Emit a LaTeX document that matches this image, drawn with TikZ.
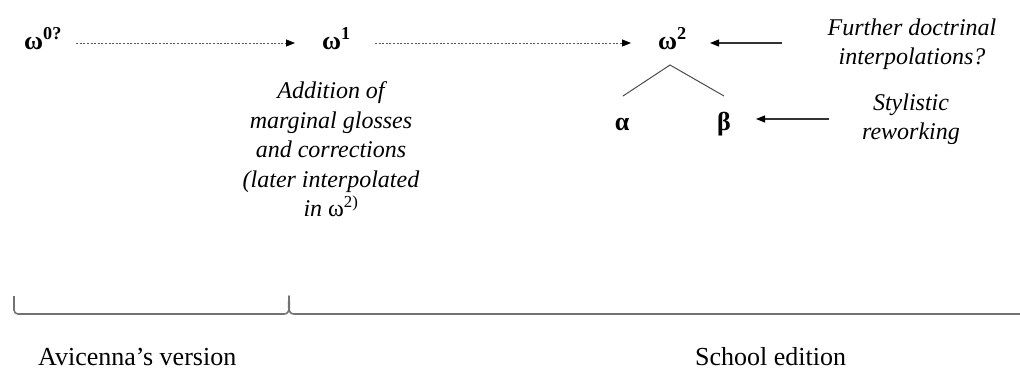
\documentclass[tikz,border=0pt]{standalone}
\usepackage{fontspec}
\setmainfont{Liberation Serif}
\usetikzlibrary{arrows.meta}
\begin{document}
\begin{tikzpicture}[x=1pt,y=1pt,
  sig/.style={inner sep=0pt,anchor=base west,font=\fontsize{26}{28}\selectfont\bfseries,text height=12pt,text depth=0pt},
  greek/.style={inner sep=0pt,anchor=base,font=\fontsize{26}{28}\selectfont\bfseries,text height=22pt,text depth=0pt},
  note/.style={inner sep=0pt,anchor=north,align=center,font=\fontsize{24}{29.5}\selectfont\itshape},
  label/.style={inner sep=0pt,anchor=base west,font=\fontsize{26}{28}\selectfont},
  dotarrow/.style={draw=black!65,line width=0.9pt,dash pattern=on 2pt off 1.6pt,-{Triangle[length=9pt,width=7pt,color=black]}},
  solidarrow/.style={draw=black!80,line width=1.1pt,-{Triangle[length=9pt,width=7pt,color=black]}},
  treeline/.style={draw=black!70,line width=1pt},
  bracket/.style={draw=black!55,line width=1.6pt,line join=round}]
\useasboundingbox (0,0) rectangle (1020,-370);

% sigla
\node[sig] (w0) at (24,-49) {ω\textsuperscript{0?}};
\node[sig] (w1) at (322,-49) {ω\textsuperscript{1}};
\node[sig] (w2) at (658,-49) {ω\textsuperscript{2}};
\node[greek] (alpha) at (622,-130) {α};
\node[greek] (beta) at (724,-130) {β};

% notes
\node[note] (add) at (331,-81.5) {Addition of\\marginal glosses\\and corrections\\(later interpolated\\in \textup{ω\textsuperscript{2)}}};
\node[note] (fd) at (912,-18.4) {Further doctrinal\\interpolations?};
\node[note] (sty) at (911,-93.4) {Stylistic\\reworking};

% arrows
\draw[dotarrow,shorten <=14pt,shorten >=27pt] (w0.east) -- (w1.west);
\draw[dotarrow,shorten <=24pt,shorten >=27pt] (w1.east) -- (w2.west);
\draw[solidarrow,shorten <=45pt,shorten >=23pt] (fd.west |- w2.east) -- (w2.east);
\draw[solidarrow,shorten <=33pt,shorten >=25pt] (sty.west |- beta.east) -- (beta.east);

% stemma lines
\coordinate (apex) at ([xshift=12pt,yshift=-16pt]w2.base west);
\draw[treeline] ([xshift=1pt,yshift=34pt]alpha.base) -- (apex) -- ([yshift=34pt]beta.base);

% bracket
\draw[bracket] (14,-296) -- (14,-310) to[out=-90,in=180] (18,-314) -- (284,-314)
  to[out=0,in=-90] (289,-296) to[out=-90,in=180] (294,-314) -- (1020,-314);

% labels
\node[label] (av) at (38,-365) {Avicenna’s version};
\node[label] (se) at (695,-365) {School edition};
\end{tikzpicture}
\end{document}
